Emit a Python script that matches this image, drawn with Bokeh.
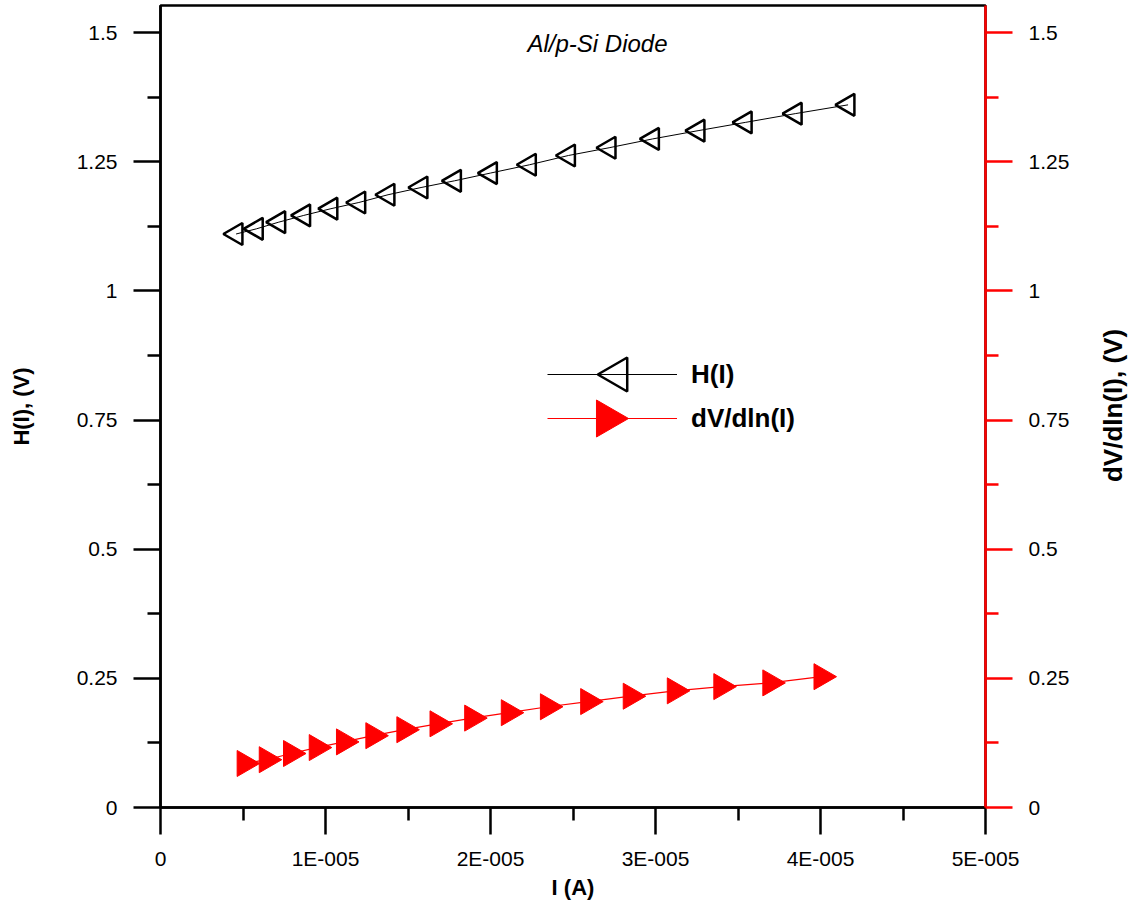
import math
from bokeh.plotting import figure
from bokeh.layouts import row
from bokeh.models import Range1d, LinearAxis, FixedTicker, Legend, LegendItem, Label
from bokeh.embed import file_html
from bokeh.resources import INLINE

# ---- data ----
current_h = [4.58e-6, 5.81e-6, 7.17e-6, 8.68e-6, 1.033e-5, 1.202e-5, 1.379e-5, 1.579e-5,
             1.782e-5, 2.000e-5, 2.236e-5, 2.473e-5, 2.719e-5, 2.982e-5, 3.258e-5,
             3.544e-5, 3.847e-5, 4.167e-5]
h_values = [1.110, 1.120, 1.133, 1.146, 1.159, 1.171, 1.186, 1.200, 1.213, 1.228, 1.244,
            1.262, 1.277, 1.294, 1.310, 1.326, 1.343, 1.360]

current_d = [5.10e-6, 6.44e-6, 7.91e-6, 9.47e-6, 1.112e-5, 1.290e-5, 1.478e-5, 1.679e-5,
             1.889e-5, 2.111e-5, 2.348e-5, 2.592e-5, 2.850e-5, 3.117e-5, 3.399e-5,
             3.696e-5, 4.006e-5]
dv_values = [0.0852, 0.0925, 0.1045, 0.116, 0.127, 0.139, 0.1506, 0.162, 0.173, 0.1835,
             0.195, 0.205, 0.2154, 0.2258, 0.234, 0.2412, 0.2532]

x_ticks = [0, 1e-5, 2e-5, 3e-5, 4e-5, 5e-5]
x_tick_labels = ["0", "1E-005", "2E-005", "3E-005", "4E-005", "5E-005"]
x_minor = [0.5e-5, 1.5e-5, 2.5e-5, 3.5e-5, 4.5e-5]
y_ticks = [0, 0.25, 0.5, 0.75, 1.0, 1.25, 1.5]
y_tick_labels = ["0", "0.25", "0.5", "0.75", "1", "1.25", "1.5"]
y_minor = [0.125, 0.375, 0.625, 0.875, 1.125, 1.375]

series_names = ["H(I)", "dV/dln(I)"]
title_text = "Al/p-Si Diode"
x_label, y_label, y2_label = "I (A)", "H(I), (V)", "dV/dln(I), (V)"

FONT = "Liberation Sans"
X_START, X_END = 0, 5e-5
Y_START, Y_END = 0, 1.5523

# layout (pixels)
W, H = 1133, 902
SIDE_W = 43                      # strip on the far right holding the right axis title
MAIN_W = W - SIDE_W
B_LEFT, B_RIGHT, B_TOP, B_BOTTOM = 160, 148 - SIDE_W, 5, 95
FRAME_W = MAIN_W - B_LEFT - B_RIGHT
FRAME_H = H - B_TOP - B_BOTTOM
LEG_X, LEG_Y = 387, 367          # legend bottom-left, px from frame bottom-left
LEG_GLYPH_W, LEG_GLYPH_H = 130, 44

fig = figure(width=MAIN_W, height=H, output_backend="svg", toolbar_location=None,
             x_range=Range1d(X_START, X_END), y_range=Range1d(Y_START, Y_END),
             min_border_left=B_LEFT, min_border_right=B_RIGHT, min_border_top=B_TOP,
             min_border_bottom=B_BOTTOM, background_fill_color="white",
             border_fill_color="white")
fig.grid.visible = False
fig.outline_line_color = "black"
fig.outline_line_width = 2.5


def style_axis(ax, color, ticks, minor, labels):
    ax.ticker = FixedTicker(ticks=ticks, minor_ticks=minor)
    ax.major_label_overrides = {t: l for t, l in zip(ticks, labels)}
    ax.axis_line_color = color
    ax.axis_line_width = 2.5
    ax.major_tick_line_color = color
    ax.major_tick_line_width = 2.5
    ax.minor_tick_line_color = color
    ax.minor_tick_line_width = 2.5
    ax.major_tick_in = 0
    ax.major_tick_out = 27
    ax.minor_tick_in = 0
    ax.minor_tick_out = 13
    ax.major_label_text_font = FONT
    ax.major_label_text_font_size = "21px"
    ax.major_label_text_color = "black"
    ax.major_label_standoff = 16
    ax.axis_label_text_font = FONT
    ax.axis_label_text_font_style = "bold"
    ax.axis_label_text_color = "black"


xa = fig.xaxis[0]
style_axis(xa, "black", x_ticks, x_minor, x_tick_labels)
xa.axis_label = x_label
xa.axis_label_text_font_size = "22px"
xa.major_label_standoff = 12
xa.axis_label_standoff = 2

ya = fig.yaxis[0]
style_axis(ya, "black", y_ticks, y_minor, y_tick_labels)
ya.axis_label = y_label
ya.axis_label_text_font_size = "22px"
ya.axis_label_standoff = 40

ra = LinearAxis()
style_axis(ra, "red", y_ticks, y_minor, y_tick_labels)
fig.add_layout(ra, "right")

h_line = fig.line(current_h, h_values, line_color="black", line_width=1)
h_pts = fig.scatter(current_h, h_values, marker="triangle", size=22, angle=math.pi / 2,
                    line_color="black", line_width=2.5, fill_alpha=0)

d_line = fig.line(current_d, dv_values, line_color="red", line_width=1.2)
d_pts = fig.scatter(current_d, dv_values, marker="triangle", size=26, angle=-math.pi / 2,
                    line_color="red", line_width=1, fill_color="red")

legend = Legend(items=[LegendItem(label=series_names[0], renderers=[h_line]),
                       LegendItem(label=series_names[1], renderers=[d_line])],
                location=(LEG_X, LEG_Y), glyph_width=LEG_GLYPH_W, glyph_height=LEG_GLYPH_H,
                label_height=LEG_GLYPH_H, label_standoff=14, padding=0, margin=0,
                spacing=0, border_line_alpha=0, background_fill_alpha=0,
                label_text_font=FONT, label_text_font_style="bold",
                label_text_font_size="26px", label_text_color="black")
fig.add_layout(legend)

# legend key symbols (rotated triangles), centred on each legend glyph box
# (shifted by a sixth of the triangle height so their bounding boxes are centred)
KEY_H_SIZE, KEY_D_SIZE = 34, 37
key_cx = LEG_X + LEG_GLYPH_W / 2
key_x1 = X_START + (key_cx + KEY_H_SIZE * 0.866 / 6) / FRAME_W * (X_END - X_START)
key_x2 = X_START + (key_cx - KEY_D_SIZE * 0.866 / 6) / FRAME_W * (X_END - X_START)
key_y1 = Y_START + (LEG_Y + 1.5 * LEG_GLYPH_H) / FRAME_H * (Y_END - Y_START)
key_y2 = Y_START + (LEG_Y + 0.5 * LEG_GLYPH_H) / FRAME_H * (Y_END - Y_START)
fig.scatter([key_x1], [key_y1], marker="triangle", size=KEY_H_SIZE, angle=math.pi / 2,
            line_color="black", line_width=2.5, fill_alpha=0)
fig.scatter([key_x2], [key_y2], marker="triangle", size=KEY_D_SIZE, angle=-math.pi / 2,
            line_color="red", line_width=1, fill_color="red")

fig.add_layout(Label(x=437, y=FRAME_H - 38, x_units="screen", y_units="screen",
                     text=title_text, text_font=FONT, text_font_style="italic",
                     text_font_size="24px", text_align="center", text_baseline="middle",
                     text_color="black"))

# right-hand strip carrying the right axis title, reading bottom-to-top
# (its frame is aligned with the main frame by the row layout)
side = figure(width=SIDE_W, height=H, output_backend="svg", toolbar_location=None,
              min_border=0, x_axis_type=None, y_axis_type=None,
              x_range=Range1d(0, 1), y_range=Range1d(0, 1),
              outline_line_color=None, background_fill_color="white",
              border_fill_color="white")
side.grid.visible = False
side.add_layout(Label(x=SIDE_W / 2 + 1, y=FRAME_H / 2 + 1, x_units="screen", y_units="screen",
                      text=y2_label, angle=math.pi / 2, text_font=FONT,
                      text_font_style="bold", text_font_size="26px", text_align="center",
                      text_baseline="middle", text_color="black"))

p = row(fig, side, spacing=0)

open("out.html", "w").write(file_html(p, INLINE))
